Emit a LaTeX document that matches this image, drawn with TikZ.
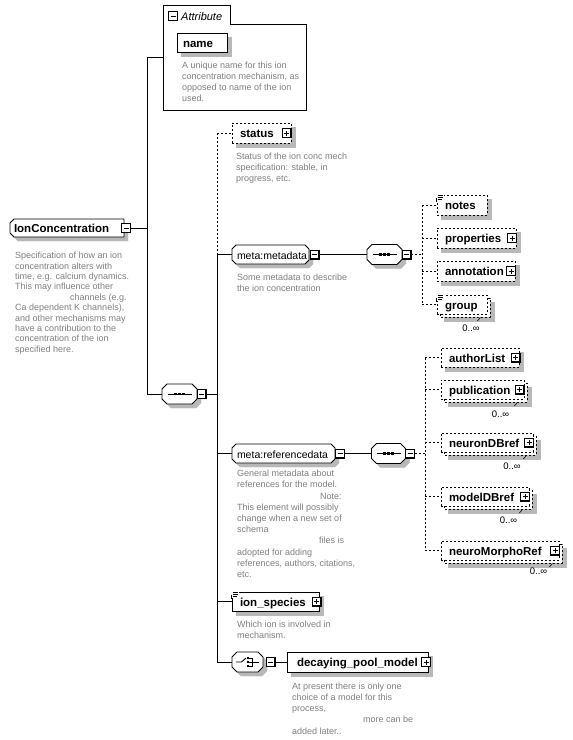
\documentclass[tikz,border=0pt]{standalone}
\usepackage{fontspec}
\setmainfont{Liberation Sans}
\definecolor{descgray}{RGB}{128,128,128}
\definecolor{shadowtone}{RGB}{184,184,184}
\tikzset{
  lw/.style={line width=0.9pt},
  conn/.style={lw, black},
  opt/.style={conn, dash pattern=on 2pt off 2pt},
  namefont/.style={font=\bfseries\fontsize{11.5}{13}\selectfont},
  elem/.style={draw, lw, fill=white, inner ysep=0pt, text height=9pt, text depth=0pt, align=left, namefont},
  optelem/.style={elem, dash pattern=on 2pt off 2pt},
  bare/.style={inner ysep=0pt, text height=9pt, text depth=0pt, align=left},
  pm/.style={draw, lw, fill=white, minimum size=9pt, inner sep=0pt},
  minus/.style={pm, path picture={\draw[line width=0.9pt] ([xshift=2pt]path picture bounding box.west) -- ([xshift=-2pt]path picture bounding box.east);
     \draw[line width=1.6pt] (path picture bounding box.north east) -- (path picture bounding box.south east) -- (path picture bounding box.south west);}},
  plus/.style={pm, path picture={\draw[line width=0.9pt] ([xshift=2pt]path picture bounding box.west) -- ([xshift=-2pt]path picture bounding box.east) ([yshift=2pt]path picture bounding box.south) -- ([yshift=-2pt]path picture bounding box.north);
     \draw[line width=1.6pt] (path picture bounding box.north east) -- (path picture bounding box.south east) -- (path picture bounding box.south west);}},
  desc/.style={anchor=north west, inner sep=0pt, align=left, text=descgray, font=\fontsize{9}{11}\selectfont},
  mult/.style={inner sep=0pt, font=\fontsize{9.5}{10}\selectfont},
  compnode/.style={minimum height=20pt, inner sep=0pt},
  shadowfill/.style={draw=shadowtone, line width=0.1pt, fill=shadowtone},
}
% shadow of a rectangular box given by centre (x,y), width, height, offset
\newcommand\shbox[5]{\path[shadowfill] ({#1-#3/2+#5},{#2-#4/2+#5}) rectangle ({#1+#3/2+#5},{#2+#4/2+#5});}
% back box of a stacked (0..unbounded) element
\newcommand\backbox[4]{\shbox{#1}{#2}{#3}{#4}{7}\draw[opt, fill=white] ({#1-#3/2+3},{#2-#4/2+3}) rectangle ({#1+#3/2+3},{#2+#4/2+3});}
% octagon given by centre x, y, width, height, chamfer, options
\newcommand\octo[6]{\path[#6] ({#1-#3/2+#5},{#2-#4/2}) -- ({#1+#3/2-#5},{#2-#4/2}) -- ({#1+#3/2},{#2-#4/2+#5}) -- ({#1+#3/2},{#2+#4/2-#5}) -- ({#1+#3/2-#5},{#2+#4/2}) -- ({#1-#3/2+#5},{#2+#4/2}) -- ({#1-#3/2},{#2+#4/2-#5}) -- ({#1-#3/2},{#2-#4/2+#5}) -- cycle;}
\newcommand\seqicon[1]{\begin{scope}[shift={(#1.center)}]
  \draw[line width=0.9pt] (-12,0) -- (12,0);
  \fill (-5.2,-1.2) rectangle (-2.8,1.2);
  \fill (-1.2,-1.2) rectangle (1.2,1.2);
  \fill (2.8,-1.2) rectangle (5.2,1.2);
\end{scope}}
\newcommand\choiceicon[1]{\begin{scope}[shift={(#1.center)}, line width=0.9pt]
  \draw (-11.5,0) -- (-6,0) -- (-1.5,-4);
  \fill (-0.5,-5) rectangle (1.5,-3);
  \fill (-0.5,-1) rectangle (1.5,1);
  \fill (-0.5,3) rectangle (1.5,5);
  \draw (1.5,-4) -- (5,-4) -- (5,4) -- (1.5,4) (1.5,0) -- (11.5,0);
\end{scope}}
\newcommand\mixicon[1]{\begin{scope}[shift={(#1.north west)}]
  \fill[white] (-1,-1) rectangle (7,6);
  \draw[line width=0.7pt] (1,0.5) -- (6,0.5) (1,2.5) -- (6,2.5) (1,4.5) -- (5,4.5);
  \draw[lw] (0,3) -- (0,7);
\end{scope}}
\newcommand\mtick[1]{\draw[line width=0.6pt] ([shift={(-7pt,-3pt)}]#1.south east) -- ++(-3pt,-3.5pt);}
\begin{document}
\begin{tikzpicture}[x=1pt,y=-1pt]
\fill[white] (0,0) rectangle (573,740);
\useasboundingbox (0,0) rectangle (573,740);

% ---------- shadows, back boxes and octagon outlines (drawn first) ----------
\shbox{202}{42.5}{50}{19}{4}
\shbox{261.5}{133}{59}{20}{4}
\shbox{462}{205}{50}{20}{4}
\shbox{476.5}{238}{79}{20}{4}
\shbox{476}{271}{78}{20}{4}
\backbox{462}{304.5}{50}{19}
\shbox{480}{357.5}{78}{19}{4}
\backbox{482.5}{389.5}{83}{19}
\backbox{487}{442.5}{92}{19}
\backbox{485}{496.5}{88}{19}
\backbox{500}{550.5}{118}{19}
\shbox{275.5}{601.5}{87}{19}{4}
\shbox{357.5}{662}{141}{20}{4}
% IonConcentration (left corners chamfered)
\path[shadowfill] (18,223) -- (128,223) -- (128,241) -- (18,241) -- (14,237) -- (14,227) -- cycle;
\draw[lw, fill=white] (14,219) -- (124,219) -- (124,237) -- (14,237) -- (10,233) -- (10,223) -- cycle;
% octagons: shadows then outlines
\octo{183.5}{398}{35}{20}{5}{shadowfill}
\octo{274.5}{258.5}{77}{19}{4}{shadowfill}
\octo{388.5}{258.5}{35}{20}{5}{shadowfill}
\octo{287.5}{457.5}{103}{19}{4}{shadowfill}
\octo{392.5}{457.5}{34}{20}{5}{shadowfill}
\octo{251.5}{666}{31}{20}{5}{shadowfill}
\octo{179.5}{394}{35}{20}{5}{draw, lw, fill=white}
\octo{270.5}{254.5}{77}{19}{4}{draw, lw, fill=white}
\octo{384.5}{254.5}{35}{20}{5}{draw, lw, fill=white}
\octo{283.5}{453.5}{103}{19}{4}{draw, lw, fill=white}
\octo{388.5}{453.5}{34}{20}{5}{draw, lw, fill=white}
\octo{247.5}{662}{31}{20}{5}{draw, lw, fill=white}

% ---------- Attribute group ----------
\node[minimum width=143pt, minimum height=105pt, inner sep=0pt] (attr) at (234.5,57.5) {};
\draw[lw] (163,5) -- (230,5) -- (230,24) -- (306,24) -- (306,110) -- (163,110) -- cycle;
\node[minus] (attr-m) at (173,16) {};
\node[anchor=base west, inner sep=0pt, font=\itshape\fontsize{11}{12}\selectfont] (attr-t) at (181,20) {Attribute};
\node[elem, minimum height=19pt, text width=38pt, inner xsep=6pt] (name) at (202,42.5) {name};
\node[desc] (attr-d) at (182,62) {A unique name for this ion\\concentration mechanism, as\\opposed to name of the ion\\used.};

% ---------- IonConcentration ----------
\node[bare, namefont, minimum height=18pt, text width=106pt, inner xsep=4pt] (ic) at (67,228) {IonConcentration};
\node[minus] (ic-m) at (126,228) {};
\node[desc, font=\fontsize{9}{10.4}\selectfont] (ic-d) at (15,252) {Specification of how an ion\\concentration alters with\\time, e.g. calcium dynamics.\\This may influence other\\\hspace*{55pt}channels (e.g.\\Ca dependent K channels),\\and other mechanisms may\\have a contribution to the\\concentration of the ion\\specified here.};

% ---------- main sequence ----------
\node[compnode, minimum width=35pt] (seq1) at (179.5,394) {};
\seqicon{seq1}
\node[minus] (seq1-m) at (201.5,394) {};

\coordinate (v1t) at (147,57.5);
\coordinate (v1b) at (147,394);
\draw[conn] (ic-m.east) -- (ic-m.east -| v1t);
\draw[conn] (v1t) -- (v1b);
\draw[conn] (v1t) -- (attr.west);
\draw[conn] (v1b) -- (seq1.west);

% ---------- status ----------
\node[optelem, minimum height=20pt, text width=43pt, inner xsep=8pt] (status) at (261.5,133) {status};
\node[plus] (status-p) at (286.5,133) {};
\node[desc] (status-d) at (236,153) {Status of the ion conc mech\\specification: stable, in\\progress, etc.};

% ---------- meta:metadata ----------
\node[bare, font=\fontsize{10.5}{12}\selectfont, minimum height=19pt, text width=67pt, inner xsep=5pt] (md) at (270.5,254.5) {meta:metadata};
\node[minus] (md-m) at (314.5,254.5) {};
\node[desc] (md-d) at (237,274) {Some metadata to describe\\the ion concentration};
\node[compnode, minimum width=35pt] (seq2) at (384.5,254.5) {};
\seqicon{seq2}
\node[minus] (seq2-m) at (406.5,254.5) {};

\node[optelem, minimum height=20pt, text width=34pt, inner xsep=8pt] (notes) at (462,205) {notes};
\mixicon{notes}
\node[optelem, minimum height=20pt, text width=63pt, inner xsep=8pt] (props) at (476.5,238) {properties};
\node[plus] (props-p) at (512,238) {};
\node[optelem, minimum height=20pt, text width=62pt, inner xsep=8pt] (annot) at (476,271) {annotation};
\node[plus] (annot-p) at (511,271) {};
\node[optelem, minimum height=19pt, text width=34pt, inner xsep=8pt] (group) at (462,304.5) {group};
\mixicon{group}
\mtick{group}
\node[mult] (group-n) at (471,328) {0..∞};

\coordinate (v3a) at (422,205);
\coordinate (v3b) at (422,304.5);
\draw[conn] (md-m.east) -- (seq2.west);
\draw[opt] (seq2-m.east) -- (seq2-m.east -| v3a);
\draw[opt] (v3a) -- (v3b);
\draw[opt] (v3a) -- (notes.west);
\draw[opt] (v3a |- props.west) -- (props.west);
\draw[opt] (v3a |- annot.west) -- (annot.west);
\draw[opt] (v3b) -- (group.west);

% ---------- meta:referencedata ----------
\node[bare, font=\fontsize{10.5}{12}\selectfont, minimum height=19pt, text width=93pt, inner xsep=5pt] (rd) at (283.5,453.5) {meta:referencedata};
\node[minus] (rd-m) at (340,453.5) {};
\node[desc, font=\fontsize{9}{11.2}\selectfont] (rd-d) at (237,470) {General metadata about\\references for the model.\\\hspace*{83pt}Note:\\This element will possibly\\change when a new set of\\schema\\\hspace*{82pt}files is\\adopted for adding\\references, authors, citations,\\etc.};
\node[compnode, minimum width=34pt] (seq3) at (388.5,453.5) {};
\seqicon{seq3}
\node[minus] (seq3-m) at (410,453.5) {};

\node[optelem, minimum height=19pt, text width=62pt, inner xsep=8pt] (auth) at (480,357.5) {authorList};
\node[plus] (auth-p) at (515.5,357.5) {};
\node[optelem, minimum height=19pt, text width=67pt, inner xsep=8pt] (pub) at (482.5,389.5) {publication};
\node[plus] (pub-p) at (519.5,389.5) {};
\mtick{pub}
\node[mult] (pub-n) at (500.5,414) {0..∞};
\node[optelem, minimum height=19pt, text width=76pt, inner xsep=8pt] (ndb) at (487,442.5) {neuronDBref};
\node[plus] (ndb-p) at (529,442.5) {};
\mtick{ndb}
\node[mult] (ndb-n) at (512,466) {0..∞};
\node[optelem, minimum height=19pt, text width=72pt, inner xsep=8pt] (mdb) at (485,496.5) {modelDBref};
\node[plus] (mdb-p) at (525,496.5) {};
\mtick{mdb}
\node[mult] (mdb-n) at (508.5,520) {0..∞};
\node[optelem, minimum height=19pt, text width=102pt, inner xsep=8pt] (nmr) at (500,550.5) {neuroMorphoRef};
\node[plus] (nmr-p) at (555,550.5) {};
\mtick{nmr}
\node[mult] (nmr-n) at (538.5,571.5) {0..∞};

\coordinate (v4a) at (425,357.5);
\coordinate (v4b) at (425,550.5);
\draw[conn] (rd-m.east) -- (seq3.west);
\draw[opt] (seq3-m.east) -- (seq3-m.east -| v4a);
\draw[opt] (v4a) -- (v4b);
\draw[opt] (v4a) -- (auth.west);
\draw[opt] (v4a |- pub.west) -- (pub.west);
\draw[opt] (v4a |- ndb.west) -- (ndb.west);
\draw[opt] (v4a |- mdb.west) -- (mdb.west);
\draw[opt] (v4b) -- (nmr.west);

% ---------- ion_species ----------
\node[elem, minimum height=19pt, text width=71pt, inner xsep=8pt] (ion) at (275.5,601.5) {ion\_species};
\mixicon{ion}
\node[plus] (ion-p) at (316.5,601.5) {};
\node[desc] (ion-d) at (237,620.5) {Which ion is involved in\\mechanism.};

% ---------- choice / decaying_pool_model ----------
\node[compnode, minimum width=31pt] (ch) at (247.5,662) {};
\choiceicon{ch}
\node[minus] (ch-m) at (270.5,662) {};
\node[elem, minimum height=20pt, text width=121pt, inner xsep=10pt] (dpm) at (357.5,662) {decaying\_pool\_model};
\node[plus] (dpm-p) at (426,662) {};
\node[desc, font=\fontsize{9}{11.2}\selectfont] (dpm-d) at (292,682.5) {At present there is only one\\choice of a model for this\\process,\\\hspace*{71pt}more can be\\added later..};
\draw[conn] (ch-m.east) -- (dpm.west);

% ---------- main vertical ----------
\coordinate (v2s) at (217,133);
\coordinate (v2m) at (217,254.5);
\coordinate (v2b) at (217,662);
\draw[conn] (seq1-m.east) -- (seq1-m.east -| v2m);
\draw[opt] (v2s) -- (v2m);
\draw[conn] (v2m) -- (v2b);
\draw[opt] (v2s) -- (status.west);
\draw[conn] (v2m) -- (md.west);
\draw[conn] (v2m |- rd.west) -- (rd.west);
\draw[conn] (v2m |- ion.west) -- (ion.west);
\draw[conn] (v2b) -- (ch.west);
\end{tikzpicture}
\end{document}
